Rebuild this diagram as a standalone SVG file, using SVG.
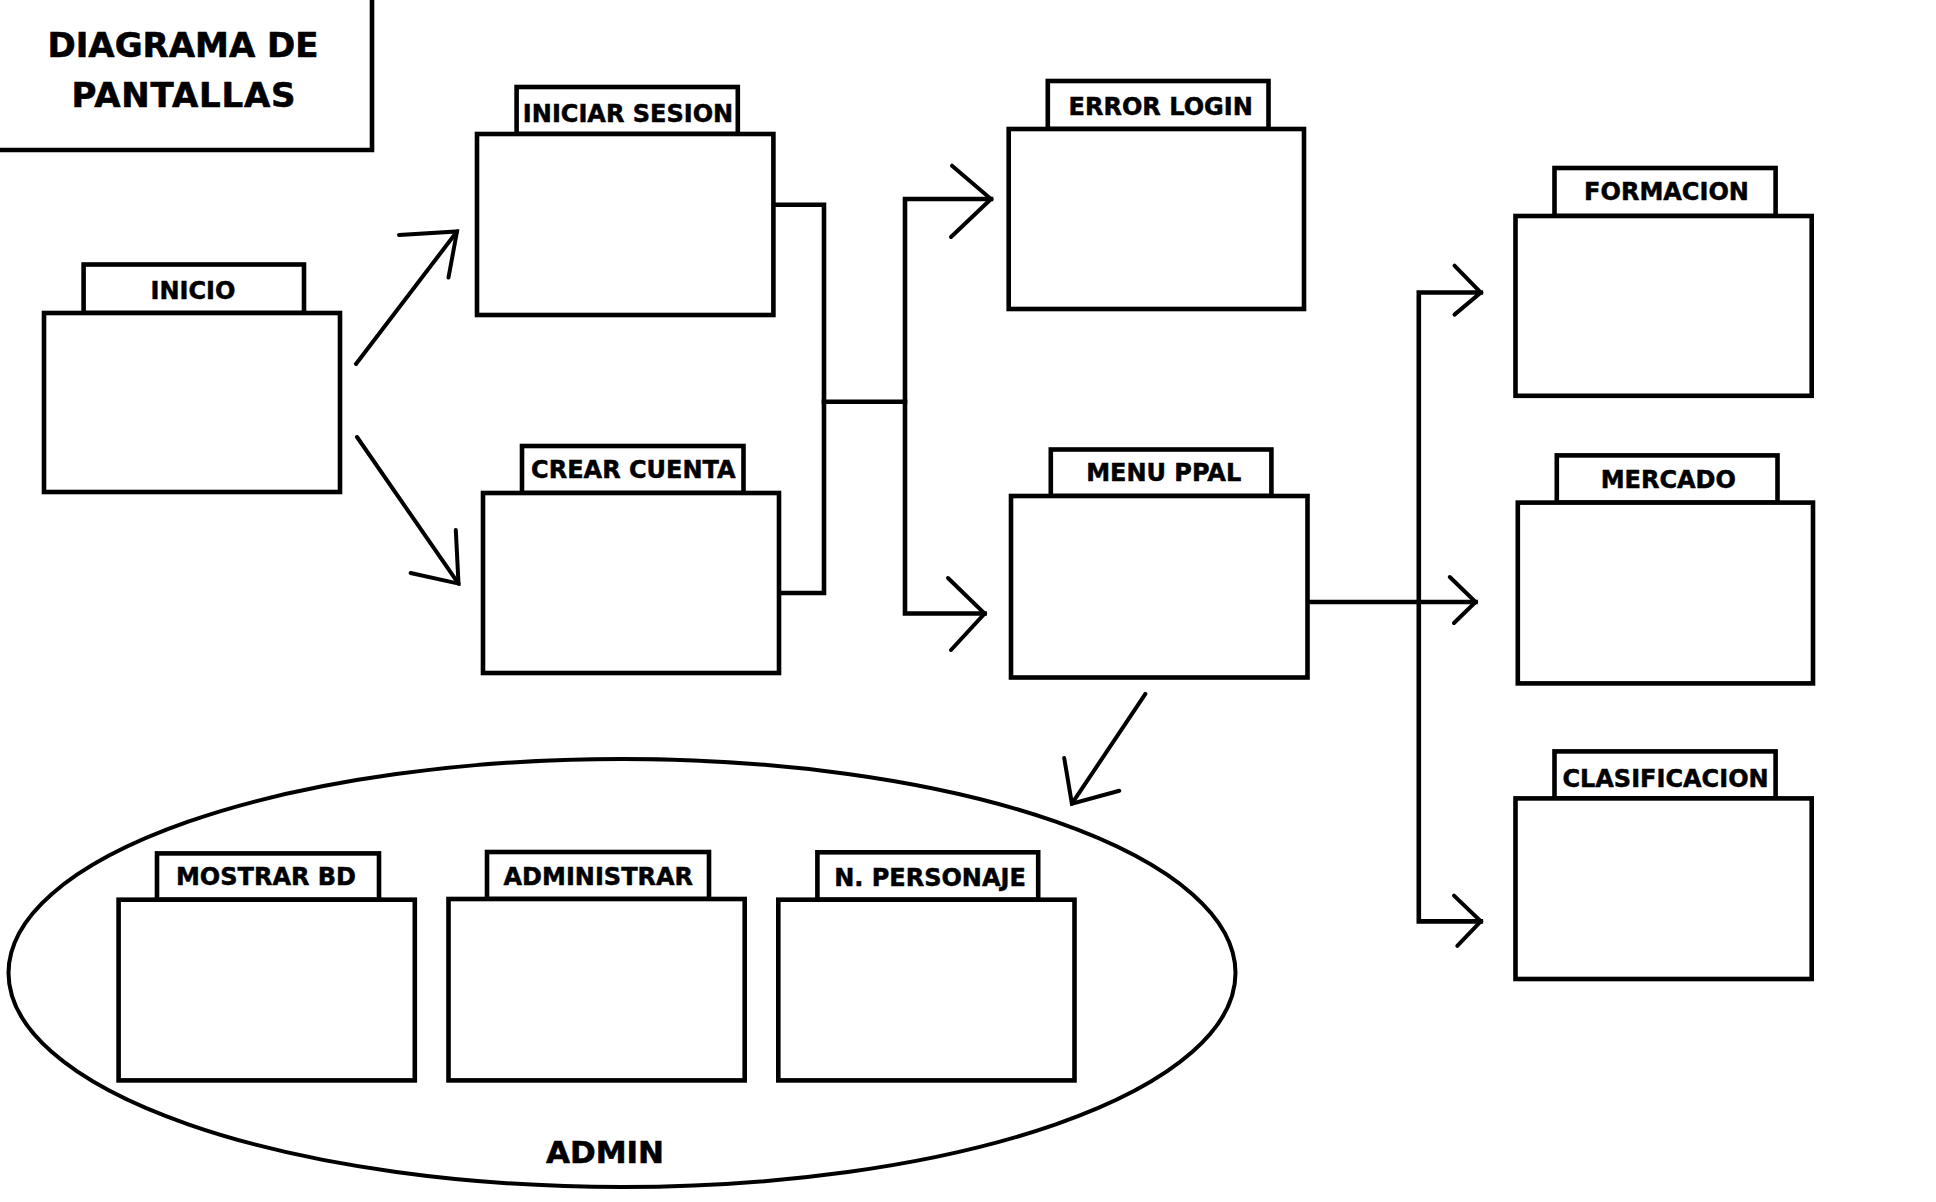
<svg xmlns="http://www.w3.org/2000/svg" width="1936" height="1202" viewBox="0 0 1936 1202">
<style>
.box{fill:#fff;stroke:#000;stroke-width:4.6}
.ln{fill:none;stroke:#000;stroke-width:4.6;stroke-linecap:square;stroke-linejoin:miter}
.ar{fill:none;stroke:#000;stroke-width:4;stroke-linecap:round;stroke-linejoin:miter}
.lbl{font-family:"DejaVu Sans",Verdana,sans-serif;font-weight:bold;font-size:24px;fill:#000;stroke:#000;stroke-width:0.5;text-anchor:middle}
.title{font-family:"DejaVu Sans",Verdana,sans-serif;font-weight:bold;font-size:34px;fill:#000;stroke:#000;stroke-width:0.6;text-anchor:middle}
</style>
<rect width="1936" height="1202" fill="#fff"/>
<g id="title">
<path class="ln" d="M0,150 H372 V0"/>
<text class="title" x="183" y="57">DIAGRAMA DE</text>
<text class="title" x="184" y="107" letter-spacing="0.8">PANTALLAS</text>
</g>
<g id="admin-group">
<ellipse cx="622" cy="973" rx="613.5" ry="214" fill="none" stroke="#000" stroke-width="4"/>
<text class="title" x="605" y="1163" style="font-size:31px">ADMIN</text>
</g>
<g id="connectors">
<line class="ar" x1="356" y1="364" x2="457" y2="231.5"/>
<polyline class="ar" points="399,235 457,231.5 448.5,277.5"/>
<line class="ar" x1="357" y1="437" x2="458.5" y2="583.6"/>
<polyline class="ar" points="410.6,573 458.5,583.6 455.8,530"/>
<polyline class="ln" points="773.4,204.7 824,204.7 824,593 779,593"/>
<line class="ln" x1="824" y1="401.8" x2="905" y2="401.8"/>
<polyline class="ln" points="991,199 905,199 905,613.5 984.6,613.5"/>
<polyline class="ar" points="952,165.7 991,199 951,237"/>
<polyline class="ar" points="948,578 984.6,613.5 951,650"/>
<line class="ar" x1="1145.4" y1="693.8" x2="1071.9" y2="803.7"/>
<polyline class="ar" points="1064.2,758 1071.9,803.7 1119.3,790.7"/>
<polyline class="ln" points="1480.8,292.5 1418.8,292.5 1418.8,921.4 1480.8,921.4"/>
<line class="ln" x1="1307.5" y1="602" x2="1475.6" y2="602"/>
<polyline class="ar" points="1454.5,265.7 1480.8,292.5 1454.5,314.6"/>
<polyline class="ar" points="1449.8,577 1475.6,602 1454,623"/>
<polyline class="ar" points="1454,895.6 1480.8,921.4 1457.3,945.8"/>
</g>
<g id="inicio">
<rect class="box" x="83.6" y="264.5" width="220.4" height="48.5"/>
<rect class="box" x="44" y="313" width="296" height="179"/>
<text class="lbl" x="193" y="298.5">INICIO</text>
</g>
<g id="iniciar-sesion">
<rect class="box" x="516.6" y="87" width="221.2" height="47"/>
<rect class="box" x="477" y="134" width="296.4" height="181"/>
<text class="lbl" x="628" y="121.7">INICIAR SESION</text>
</g>
<g id="crear-cuenta">
<rect class="box" x="522" y="446" width="221.5" height="47"/>
<rect class="box" x="483" y="493" width="296" height="180"/>
<text class="lbl" x="633.4" y="478.4">CREAR CUENTA</text>
</g>
<g id="error-login">
<rect class="box" x="1047.8" y="81" width="220.7" height="48"/>
<rect class="box" x="1008.7" y="129" width="295.3" height="180"/>
<text class="lbl" x="1160.7" y="114.8">ERROR LOGIN</text>
</g>
<g id="menu-ppal">
<rect class="box" x="1050.8" y="449.5" width="220.6" height="46.5"/>
<rect class="box" x="1011" y="496" width="296.5" height="181.5"/>
<text class="lbl" x="1163.7" y="481">MENU PPAL</text>
</g>
<g id="formacion">
<rect class="box" x="1554.5" y="168" width="221.1" height="48"/>
<rect class="box" x="1515.5" y="216" width="296.2" height="179.8"/>
<text class="lbl" x="1666.5" y="199.5">FORMACION</text>
</g>
<g id="mercado">
<rect class="box" x="1556.8" y="455.4" width="220.7" height="47.2"/>
<rect class="box" x="1517.8" y="502.6" width="295.2" height="180.8"/>
<text class="lbl" x="1668.3" y="488.3">MERCADO</text>
</g>
<g id="clasificacion">
<rect class="box" x="1554.5" y="751.4" width="221.1" height="47"/>
<rect class="box" x="1515.5" y="798.4" width="296.2" height="180.6"/>
<text class="lbl" x="1665.5" y="786.7">CLASIFICACION</text>
</g>
<g id="mostrar-bd">
<rect class="box" x="157" y="853.4" width="222" height="46.3"/>
<rect class="box" x="118.6" y="899.7" width="296.2" height="180.7"/>
<text class="lbl" x="266" y="885.2">MOSTRAR BD</text>
</g>
<g id="administrar">
<rect class="box" x="487" y="852" width="222" height="47"/>
<rect class="box" x="448.5" y="899" width="296.2" height="181.4"/>
<text class="lbl" x="598.3" y="885">ADMINISTRAR</text>
</g>
<g id="n-personaje">
<rect class="box" x="817.4" y="852.3" width="220.8" height="47.4"/>
<rect class="box" x="778.3" y="899.7" width="296.2" height="180.7"/>
<text class="lbl" x="930" y="886.3">N. PERSONAJE</text>
</g>
</svg>
